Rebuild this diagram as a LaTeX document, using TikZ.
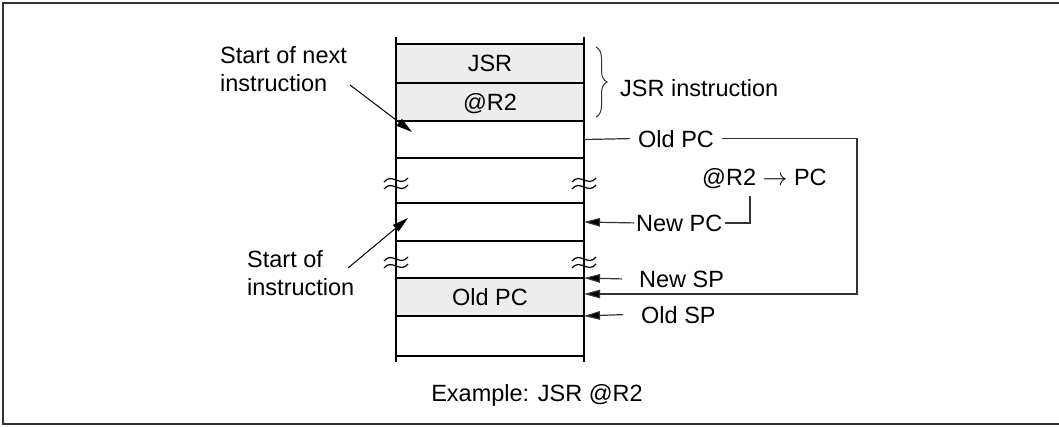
\documentclass[tikz,border=0pt]{standalone}
\usepackage{fontspec}
\setmainfont{Liberation Sans}
\usetikzlibrary{arrows.meta,decorations.pathreplacing,calc}
\begin{document}
\begin{tikzpicture}[x=1pt,y=-1pt,
  lbl/.style={font=\fontsize{23.5}{28}\selectfont, inner ysep=0pt, inner xsep=0pt},
  cell/.style={draw=black, line width=1.8pt, minimum width=188pt, inner sep=0pt, outer sep=0pt,
    font=\fontsize{23.5}{28}\selectfont, text height=16.8pt, text depth=0pt},
  graycell/.style={cell, fill=black!7},
  conn/.style={line width=1.2pt, draw=black!80},
  headarrow/.style={-{Triangle[length=16pt,width=8.5pt,fill=black]}},
  wave/.style={line width=1.2pt, draw=black}
]
\useasboundingbox (0,0) rectangle (1059,426);
\draw[line width=2pt, black!80] (1080,3) -- (3,3) -- (3,424) -- (1080,424);

% memory column cells
\node[graycell, minimum height=39pt] (jsr) at (490,63.5) {JSR};
\node[graycell, minimum height=38pt] (r2) at (490,102) {@R2};
\node[cell, minimum height=37pt] (c3) at (490,139.5) {};
\node[cell, minimum height=38pt] (c4) at (490,222) {};
\node[graycell, minimum height=38pt] (oldpc) at (490,297) {Old PC};
\node[cell, minimum height=40pt] (c6) at (490,336) {};
\draw[line width=1.8pt] (396,37) -- (396,362);
\draw[line width=1.8pt] (584,37) -- (584,362);

% break marks
\foreach \bx/\by in {396/183, 584/183, 396/262, 584/262}{
  \draw[wave] (\bx-12,\by-1) .. controls (\bx-4,\by-11) and (\bx+4,\by+5) .. (\bx+12,\by-5);
  \draw[wave] (\bx-12,\by+6) .. controls (\bx-4,\by-4) and (\bx+4,\by+12) .. (\bx+12,\by+2);
}

% brace
\draw[line width=1pt, black!80, decorate, decoration={brace, amplitude=11pt}]
  ([shift={(12,3)}]jsr.north east) -- ([shift={(12,-4)}]r2.south east);
\node[lbl, anchor=base west] (jsrins) at (620,96) {JSR instruction};

% left labels
\node[lbl, anchor=base west] (sn1) at (220,63) {Start of next};
\node[lbl, anchor=base west] (sn2) at (220,91) {instruction};
\node[lbl, anchor=base west] (si1) at (247,267) {Start of};
\node[lbl, anchor=base west] (si2) at (247,295) {instruction};
\coordinate (a1) at (350,85);
\coordinate (a2) at (348,268);
\draw[line width=1pt, black, headarrow] (a1) -- ($(c3.north west)+(16,11)$);
\draw[line width=1pt, black, headarrow] (a2) -- ($(c4.north west)+(12,15)$);

% right labels
\node[lbl, anchor=base west, inner xsep=8pt] (opc) at (630,147) {Old PC};
\node[lbl, anchor=base west] (r2pc) at (702,185) {@R2 $\rightarrow$ PC};
\node[lbl, anchor=base west, inner xsep=2pt] (npc) at (634,231) {New PC};
\node[lbl, anchor=base west] (nsp) at (639,287) {New SP};
\node[lbl, anchor=base west] (osp) at (641,323) {Old SP};

\coordinate (lp) at (857,294);
\coordinate (k) at (750,196);
\draw[conn] (c3.east) -- (opc.west);
\draw[conn, headarrow] (opc.east) -| (lp) -- (lp -| oldpc.east);
\draw[conn, headarrow] (npc.west) -- (c4.east);
\draw[conn] (npc.east) -| (k);
\draw[conn, headarrow] ([xshift=-17pt]nsp.west) -- (oldpc.north east);
\draw[conn, headarrow] ([xshift=-18pt]osp.west) -- (oldpc.south east);

% caption
\node[lbl, anchor=base] (cap) at (537,401) {Example: JSR @R2};
\end{tikzpicture}
\end{document}
